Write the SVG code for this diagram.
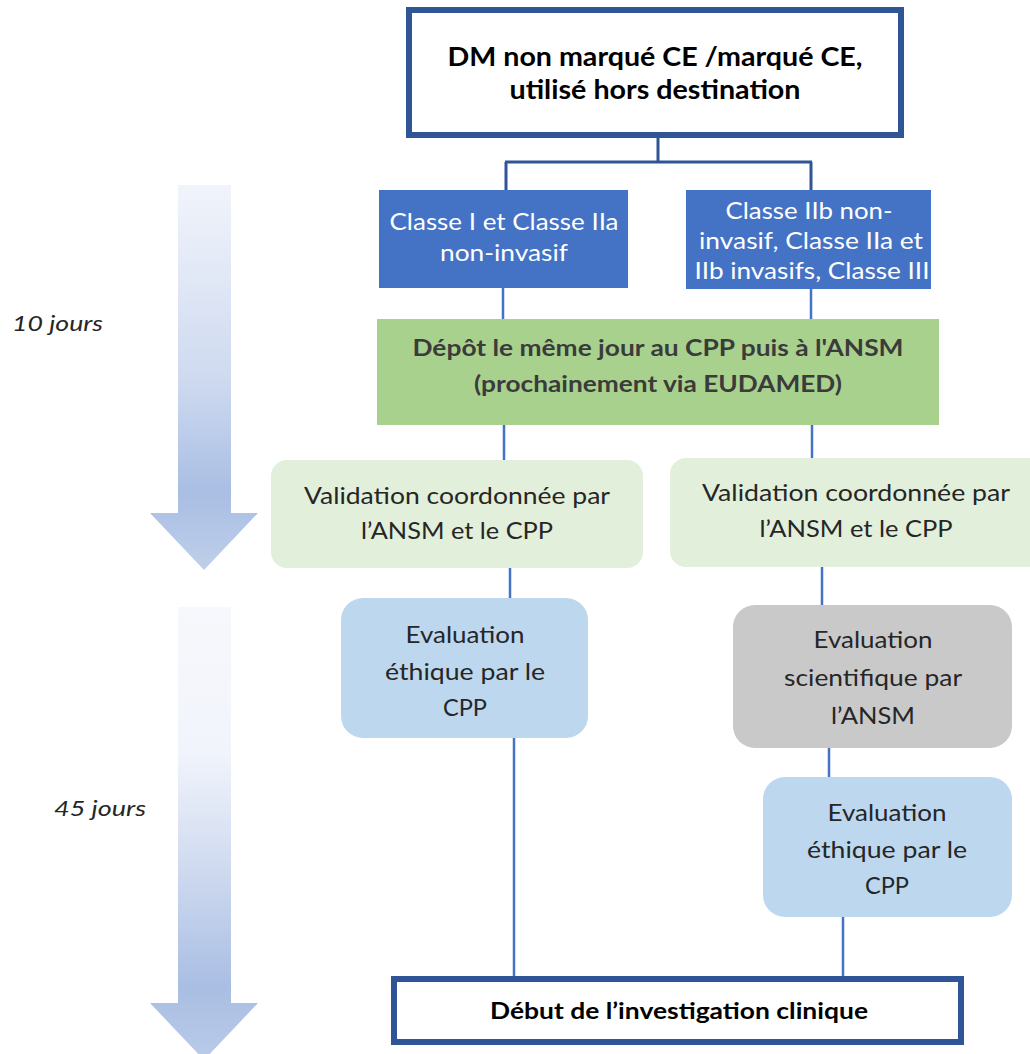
<svg xmlns="http://www.w3.org/2000/svg" width="1030" height="1054" viewBox="0 0 1030 1054">
<style>
text{font-family:Lato,"Open Sans","Liberation Sans",sans-serif;text-anchor:middle}
.b{font-weight:bold}
.bk{fill:#000}
.w{fill:#fff;font-size:23px}
.g{fill:#3b3b3b;font-size:23px;font-weight:bold}
.d{fill:#262626;font-size:24px}
.it{font-style:italic;fill:#262626;font-size:22px;text-anchor:start}
.frame{fill:#fff;stroke:#2f5597;stroke-width:6}
.c1{stroke:#2f5597;stroke-width:3;fill:none}
.c2{stroke:#4472c4;stroke-width:2.5;fill:none}
</style>
<defs>
<linearGradient id="ga1" x1="0" y1="0" x2="0" y2="1">
<stop offset="0" stop-color="#f1f4fb"/>
<stop offset="0.5" stop-color="#cfdaf0"/>
<stop offset="0.8" stop-color="#a9bee3"/>
<stop offset="1" stop-color="#bfcfea"/>
</linearGradient>
<linearGradient id="ga2" x1="0" y1="0" x2="0" y2="1">
<stop offset="0" stop-color="#f7f8fc"/>
<stop offset="0.32" stop-color="#f1f4fb"/>
<stop offset="0.55" stop-color="#d3ddf1"/>
<stop offset="0.84" stop-color="#a9bee3"/>
<stop offset="1" stop-color="#bacbe9"/>
</linearGradient>
</defs>

<g id="timeline">
<path d="M178,185 H231 V513 H258 L204,570 L150,513 H178 Z" fill="url(#ga1)"/>
<path d="M178,607 H231 V1003 H258 L204,1060 L150,1003 H178 Z" fill="url(#ga2)"/>
<text class="it" x="12" y="331" textLength="91" lengthAdjust="spacingAndGlyphs">10 jours</text>
<text class="it" x="54" y="816" textLength="92" lengthAdjust="spacingAndGlyphs">45 jours</text>
</g>

<g id="connectors">
<path class="c1" d="M658,138 V162 M505,162 H812 M506,162 V190 M811,162 V190"/>
<path class="c2" d="M503,288 V320 M811,289 V320 M504,425 V460 M812,425 V458 M510,568 V598 M822,567 V605 M514,738 V977 M829,748 V777 M843,917 V977"/>
</g>

<g id="n-top">
<rect class="frame" x="409" y="10" width="492" height="125"/>
<text class="b bk" x="655" y="66" font-size="26" textLength="415" lengthAdjust="spacingAndGlyphs">DM non marqué CE /marqué CE,</text>
<text class="b bk" x="655" y="99" font-size="26" textLength="291" lengthAdjust="spacingAndGlyphs">utilisé hors destination</text>
</g>

<g id="n-classe-1">
<rect x="379" y="190" width="249" height="98" fill="#4472c4"/>
<text class="w" x="504" y="230" textLength="229" lengthAdjust="spacingAndGlyphs">Classe I et Classe IIa</text>
<text class="w" x="504" y="261" textLength="128" lengthAdjust="spacingAndGlyphs">non-invasif</text>
</g>

<g id="n-classe-2">
<rect x="686" y="190" width="245" height="99" fill="#4472c4"/>
<text class="w" x="809" y="219" textLength="167" lengthAdjust="spacingAndGlyphs">Classe IIb non-</text>
<text class="w" x="811" y="249" textLength="224" lengthAdjust="spacingAndGlyphs">invasif, Classe IIa et</text>
<text class="w" x="812" y="279" textLength="235" lengthAdjust="spacingAndGlyphs">IIb invasifs, Classe III</text>
</g>

<g id="n-depot">
<rect x="377" y="319" width="562" height="106" fill="#a9d18e"/>
<text class="g" x="658" y="356" textLength="491" lengthAdjust="spacingAndGlyphs">Dépôt le même jour au CPP puis à l'ANSM</text>
<text class="g" x="658" y="392" textLength="368" lengthAdjust="spacingAndGlyphs">(prochainement via EUDAMED)</text>
</g>

<g id="n-validation-1">
<rect x="271" y="460" width="372" height="108" rx="16" fill="#e2efda"/>
<text class="d" x="457" y="504" textLength="306" lengthAdjust="spacingAndGlyphs">Validation coordonnée par</text>
<text class="d" x="457" y="539" textLength="192" lengthAdjust="spacingAndGlyphs">l’ANSM et le CPP</text>
</g>

<g id="n-validation-2">
<rect x="670" y="458" width="380" height="109" rx="16" fill="#e2efda"/>
<text class="d" x="856" y="501" textLength="308" lengthAdjust="spacingAndGlyphs">Validation coordonnée par</text>
<text class="d" x="856" y="537" textLength="193" lengthAdjust="spacingAndGlyphs">l’ANSM et le CPP</text>
</g>

<g id="n-ethique-1">
<rect x="341" y="598" width="247" height="140" rx="22" fill="#bdd7ee"/>
<text class="d" x="465" y="643" textLength="119" lengthAdjust="spacingAndGlyphs">Evaluation</text>
<text class="d" x="465" y="680" textLength="160" lengthAdjust="spacingAndGlyphs">éthique par le</text>
<text class="d" x="465" y="716" textLength="44" lengthAdjust="spacingAndGlyphs">CPP</text>
</g>

<g id="n-scientifique">
<rect x="733" y="605" width="279" height="143" rx="22" fill="#c9c9c9"/>
<text class="d" x="873" y="648" textLength="119" lengthAdjust="spacingAndGlyphs">Evaluation</text>
<text class="d" x="873" y="686" textLength="178" lengthAdjust="spacingAndGlyphs">scientifique par</text>
<text class="d" x="873" y="724" textLength="84" lengthAdjust="spacingAndGlyphs">l’ANSM</text>
</g>

<g id="n-ethique-2">
<rect x="763" y="777" width="249" height="140" rx="22" fill="#bdd7ee"/>
<text class="d" x="887" y="821" textLength="119" lengthAdjust="spacingAndGlyphs">Evaluation</text>
<text class="d" x="887" y="858" textLength="160" lengthAdjust="spacingAndGlyphs">éthique par le</text>
<text class="d" x="887" y="894" textLength="44" lengthAdjust="spacingAndGlyphs">CPP</text>
</g>

<g id="n-debut">
<rect class="frame" x="394" y="979" width="567" height="63"/>
<text class="b bk" x="679" y="1019" font-size="23" textLength="378" lengthAdjust="spacingAndGlyphs">Début de l’investigation clinique</text>
</g>
</svg>
